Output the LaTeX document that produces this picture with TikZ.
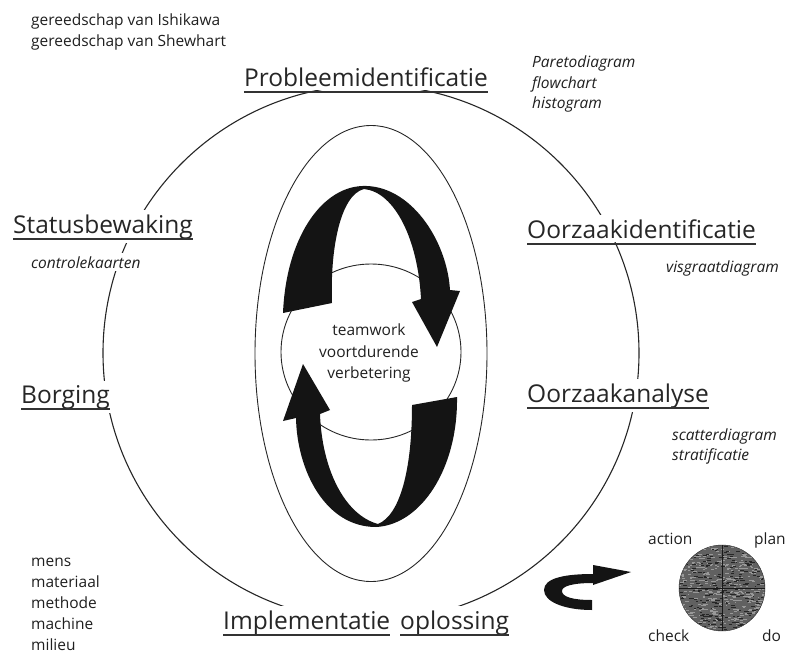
\documentclass[tikz,border=0pt]{standalone}
\usepackage{fontspec}
\setmainfont{Open Sans}
\begin{document}
\begin{tikzpicture}[x=1pt,y=-1pt,
  ink/.style={draw=black!85, line width=1.1pt},
  thin ink/.style={draw=black!85, line width=0.9pt},
  biglabel/.style={font=\fontsize{24.5}{29}\selectfont, text=black!85, fill=white,
    inner xsep=2pt, inner ysep=4pt, anchor=base west},
  tool/.style={font=\fontsize{15.5}{19}\selectfont\itshape, text=black!88, fill=white,
    inner xsep=1pt, inner ysep=3pt, anchor=base west},
  plain/.style={font=\fontsize{15.5}{19}\selectfont, text=black!88,
    inner sep=1pt, anchor=base west},
  uline/.style={draw=black!80, line width=1.4pt},
  blob/.style={fill=black!92, draw=none}
]
\useasboundingbox (0,0) rectangle (790,656);
\clip (0,0) rectangle (790,656);

% outer cycle, oval and core circle
\draw[ink] (371,353) circle[radius=268pt];
\draw[thin ink] (371,353.5) ellipse[x radius=116pt, y radius=228pt];
\draw[thin ink] (371,352) ellipse[x radius=90pt, y radius=88pt];

% upper twisted arrow (runs up on the left, down on the right)
\fill[blob] (283,313) .. controls (286,240) and (320,188) .. (362,186)
  .. controls (410,184) and (447,240) .. (450,290)
  -- (460,291) -- (437,347) -- (412,302) -- (421,299)
  .. controls (418,240) and (395,192) .. (364,189)
  .. controls (340,195) and (330,250) .. (332,303) -- cycle;

% lower twisted arrow (runs down on the right, up on the left)
\fill[blob] (457,397) .. controls (458,470) and (420,525) .. (376,527)
  .. controls (325,527) and (297,470) .. (296,418)
  -- (283,421) -- (303,364) -- (330,410) -- (320,414)
  .. controls (322,470) and (345,515) .. (378,524)
  .. controls (400,515) and (412,470) .. (412,405) -- cycle;

% centre text
\node[plain, anchor=base] (tw1) at (369,335) {teamwork};
\node[plain, anchor=base] (tw2) at (369,357) {voortdurende};
\node[plain, anchor=base] (tw3) at (369,378) {verbetering};

% tool sets, top left
\node[plain] (g1) at (30,25) {gereedschap van Ishikawa};
\node[plain] (g2) at (30,46) {gereedschap van Shewhart};

% cycle stages
\node[biglabel, anchor=base] (pi) at (366,86) {Probleemidentificatie};
\node[biglabel] (sb) at (11,233) {Statusbewaking};
\node[biglabel] (oi) at (525,238) {Oorzaakidentificatie};
\node[biglabel] (bo) at (19,403) {Borging};
\node[biglabel] (oa) at (525,402) {Oorzaakanalyse};
\node[biglabel] (im) at (221,629) {Implementatie};
\node[biglabel] (op) at (398,629) {oplossing};
\fill[white] (im.north east) rectangle (op.south west);

\foreach \n in {pi,sb,oi,bo,oa,im,op}{
  \draw[uline] ([xshift=2pt,yshift=-6pt]\n.base west) -- ([xshift=-2pt,yshift=-6pt]\n.base east);
}

% tools per stage
\node[tool] (t1) at (531,67) {Paretodiagram};
\node[tool] (t2) at (531,88) {flowchart};
\node[tool] (t3) at (531,108) {histogram};
\node[tool] (t4) at (30,268) {controlekaarten};
\node[tool] (t5) at (665,272) {visgraatdiagram};
\node[tool] (t6) at (671,440) {scatterdiagram};
\node[tool] (t7) at (671,460) {stratificatie};

% the five M's
\node[plain] (m1) at (30,566) {mens};
\node[plain] (m2) at (30,587) {materiaal};
\node[plain] (m3) at (30,608) {methode};
\node[plain] (m4) at (30,629) {machine};
\node[plain] (m5) at (30,650) {milieu};

% hooked arrow towards the PDCA wheel
\fill[blob] (592,610) .. controls (565,610) and (544,602) .. (544,590)
  .. controls (544,578) and (565,574) .. (593,574)
  -- (593,565) -- (631,572) -- (593,585) -- (593,583)
  .. controls (573,583) and (562,586) .. (562,591)
  .. controls (562,597) and (573,600) .. (592,600) -- cycle;

% PDCA wheel with a grainy fill
\node[circle, minimum size=86pt, inner sep=0pt, fill=black!62, draw=black!85] (pdca) at (722,588) {};
\begin{scope}
  \clip (pdca.center) circle[radius=42.5pt];
  \pgfmathsetseed{11}
  \foreach \k in {1,...,520}{
    \pgfmathsetmacro\px{722+44*rand}
    \pgfmathsetmacro\py{588+44*rand}
    \pgfmathsetmacro\ln{1.5+3*rnd}
    \draw[black!40, line width=0.5pt] (\px,\py) -- ++(\ln,0);
  }
  \foreach \k in {1,...,300}{
    \pgfmathsetmacro\px{722+44*rand}
    \pgfmathsetmacro\py{588+44*rand}
    \pgfmathsetmacro\ln{1.5+3*rnd}
    \draw[black!85, line width=0.6pt] (\px,\py) -- ++(\ln,0);
  }
\end{scope}
\draw[black!90, line width=0.8pt] (pdca.north) -- (pdca.south);
\draw[black!90, line width=0.8pt] (pdca.west) -- (pdca.east);

\node[plain] (pa) at (647,544) {action};
\node[plain] (pp) at (753,544) {plan};
\node[plain] (pc) at (647,641) {check};
\node[plain] (pd) at (761,641) {do};
\end{tikzpicture}
\end{document}
